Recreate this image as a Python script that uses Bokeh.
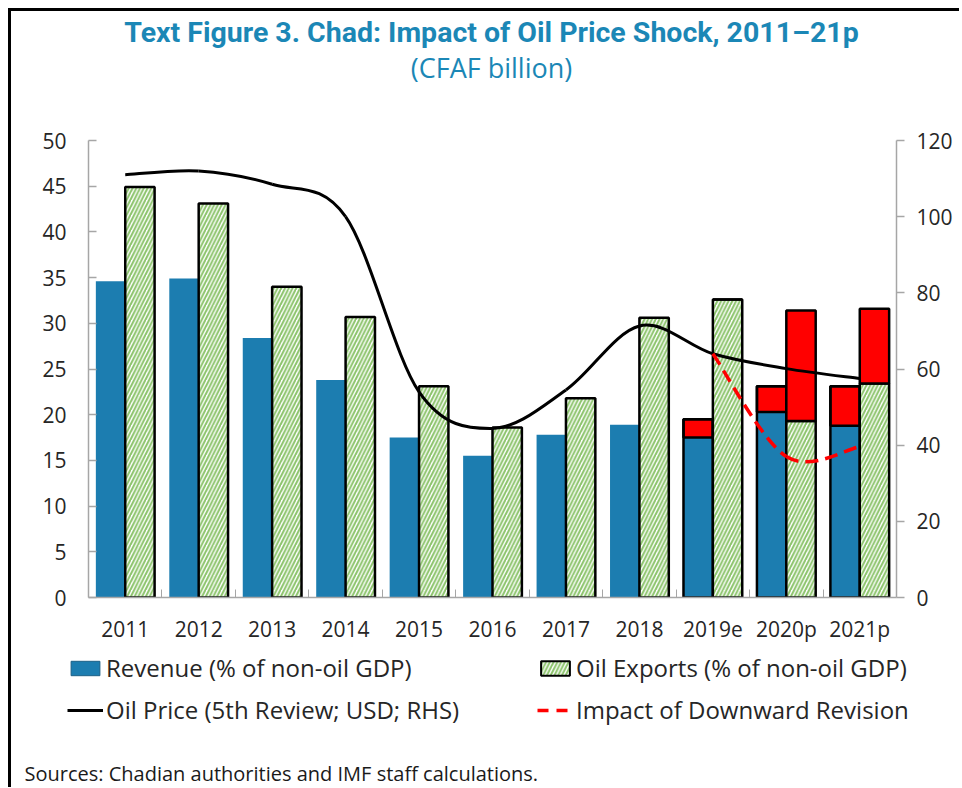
import math
from bokeh.plotting import figure
from bokeh.layouts import column
from bokeh.models import (Range1d, LinearAxis, FixedTicker, Legend, LegendItem,
                          ColumnDataSource, Label)
from bokeh.transform import dodge
from bokeh.embed import file_html
from bokeh.resources import INLINE

nan = float("nan")

# ---- data ----
categories = ["2011", "2012", "2013", "2014", "2015", "2016", "2017", "2018", "2019e", "2020p", "2021p"]
revenue = [34.6, 34.9, 28.4, 23.8, 17.5, 15.5, 17.8, 18.9, 17.5, 20.3, 18.8]
oil_exports = [44.9, 43.1, 34.0, 30.7, 23.1, 18.6, 21.8, 30.6, 32.6, 19.3, 23.4]
revenue_5th_review = [nan, nan, nan, nan, nan, nan, nan, nan, 19.5, 23.1, 23.1]
oil_exports_5th_review = [nan, nan, nan, nan, nan, nan, nan, nan, 32.6, 31.4, 31.6]
oil_price = [111.0, 112.0, 108.5, 100.0, 54.0, 44.4, 54.5, 71.3, 64.0, 60.1, 57.5]
oil_price_revised = [nan, nan, nan, nan, nan, nan, nan, nan, 64.0, 37.0, 39.6]
left_ticks = [0, 5, 10, 15, 20, 25, 30, 35, 40, 45, 50]
right_ticks = [0, 20, 40, 60, 80, 100, 120]

TITLE = "Text Figure 3. Chad: Impact of Oil Price Shock, 2011\u201321p"
SUBTITLE = "(CFAF billion)"
SOURCE = "Sources: Chadian authorities and IMF staff calculations."

TITLE_C = "#1B87B6"
BLUE = "#1C7DB0"
GREEN = "#8CC46C"
RED = "#FF0000"
FONT = "Open Sans"
TXT = "#262626"
W = 948


def blank_fig(h, yr):
    f = figure(width=W, height=h, output_backend="svg", toolbar_location=None,
               x_range=Range1d(0, W), y_range=yr, x_axis_type=None, y_axis_type=None)
    f.min_border = 0
    f.frame_align = False
    f.outline_line_color = None
    f.xgrid.visible = False
    f.ygrid.visible = False
    return f


# ---------- top: titles ----------
top = blank_fig(114, Range1d(114, 0))
top.add_layout(Label(x=480, y=21, text=TITLE, text_align="center", text_baseline="middle",
                     text_font="Roboto", text_font_style="bold", text_font_size="28.5px",
                     text_color=TITLE_C))
top.add_layout(Label(x=480, y=56, text=SUBTITLE, text_align="center", text_baseline="middle",
                     text_font=FONT, text_font_size="27px", text_color=TITLE_C))

# ---------- main chart ----------
idx = list(range(len(categories)))
src = ColumnDataSource(dict(x=idx, rev=revenue, exp=oil_exports,
                            rev5=revenue_5th_review, exp5=oil_exports_5th_review))

p = figure(width=W, height=522, output_backend="svg", toolbar_location=None,
           x_range=Range1d(-0.5, len(categories) - 0.5), y_range=Range1d(0, 50),
           min_border_left=77, min_border_right=63, min_border_top=15, min_border_bottom=50)
p.frame_align = False
p.outline_line_color = None
p.xgrid.visible = False
p.ygrid.visible = False
p.extra_y_ranges = {"price": Range1d(0, 120)}

BAR_LW = 2.5
HATCH = dict(hatch_pattern="/", hatch_color=GREEN, hatch_scale=7.5, hatch_weight=2)
p.vbar(x=dodge("x", -0.2), top="rev", bottom=0, width=0.4, source=src,
       fill_color=BLUE, line_color=None)
p.vbar(x=dodge("x", -0.2), top="rev5", bottom="rev", width=0.4, source=src,
       fill_color=RED, line_color="black", line_width=BAR_LW)
p.vbar(x=dodge("x", -0.2), top="rev5", bottom=0, width=0.4, source=src,
       fill_color=None, line_color="black", line_width=BAR_LW)
p.vbar(x=dodge("x", 0.2), top="exp", bottom=0, width=0.4, source=src,
       fill_color="white", line_color="black", line_width=BAR_LW, **HATCH)
p.vbar(x=dodge("x", 0.2), top="exp5", bottom="exp", width=0.4, source=src,
       fill_color=RED, line_color="black", line_width=BAR_LW)


def bezier_source(xs, ys):
    pts = [(x, y) for x, y in zip(xs, ys) if not math.isnan(y)]
    d = dict(x0=[], y0=[], x1=[], y1=[], cx0=[], cy0=[], cx1=[], cy1=[])
    n = len(pts)
    for i in range(n - 1):
        a = pts[i - 1] if i > 0 else pts[i]
        b = pts[i]
        c = pts[i + 1]
        e = pts[i + 2] if i + 2 < n else pts[i + 1]
        d["x0"].append(b[0]); d["y0"].append(b[1])
        d["x1"].append(c[0]); d["y1"].append(c[1])
        d["cx0"].append(b[0] + (c[0] - a[0]) / 6); d["cy0"].append(b[1] + (c[1] - a[1]) / 6)
        d["cx1"].append(c[0] - (e[0] - b[0]) / 6); d["cy1"].append(c[1] - (e[1] - b[1]) / 6)
    return ColumnDataSource(d)


p.bezier(x0="x0", y0="y0", x1="x1", y1="y1", cx0="cx0", cy0="cy0", cx1="cx1", cy1="cy1",
         source=bezier_source(idx, oil_price), y_range_name="price",
         line_color="black", line_width=3)
p.bezier(x0="x0", y0="y0", x1="x1", y1="y1", cx0="cx0", cy0="cy0", cx1="cx1", cy1="cy1",
         source=bezier_source(idx, oil_price_revised), y_range_name="price",
         line_color=RED, line_width=3.5, line_dash="13 7")

AX = "#A6A6A6"
TICK_FS = "21px"
p.xaxis.ticker = FixedTicker(ticks=idx, minor_ticks=[i + 0.5 for i in idx[:-1]])
p.xaxis.major_label_overrides = {i: c for i, c in zip(idx, categories)}
p.xaxis.major_tick_in = 0
p.xaxis.major_tick_out = 0
p.xaxis.minor_tick_in = 8
p.xaxis.minor_tick_out = 0
p.xaxis.minor_tick_line_color = AX
p.xaxis.major_label_standoff = 17

p.yaxis.ticker = FixedTicker(ticks=left_ticks)
p.yaxis.major_tick_in = 8
p.yaxis.major_tick_out = 0
p.yaxis.minor_tick_line_color = None
p.yaxis.major_label_standoff = 22

right = LinearAxis(y_range_name="price", ticker=FixedTicker(ticks=right_ticks))
right.major_tick_in = 0
right.major_tick_out = 8
right.minor_tick_line_color = None
right.major_label_standoff = 12
p.add_layout(right, "right")

for ax in [p.xaxis[0], p.yaxis[0], right]:
    ax.axis_line_color = AX
    ax.axis_line_width = 1.5
    ax.major_tick_line_color = AX
    ax.major_tick_line_width = 1.5
    ax.major_label_text_font = FONT
    ax.major_label_text_font_size = TICK_FS
    ax.major_label_text_color = TXT

# ---------- bottom: legend + source ----------
BH = 140
bot = blank_fig(BH, Range1d(BH, 0))
# legend keys (styled like the chart marks, holding no visible data)
rev_k = bot.vbar(x=[nan], top=[nan], width=1, fill_color=BLUE, line_color="#1A5F86", line_width=1)
exp_k = bot.vbar(x=[nan], top=[nan], width=1, fill_color="white", line_color="black",
                 line_width=2, **HATCH)
price_k = bot.line(x=[nan, nan], y=[nan, nan], line_color="black", line_width=3)
imp_k = bot.line(x=[nan, nan], y=[nan, nan], line_color=RED, line_width=3.5, line_dash="11 8")


def make_legend(items, loc):
    lg = Legend(items=items, location=loc, orientation="vertical")
    lg.border_line_color = None
    lg.background_fill_alpha = 0
    lg.padding = 0
    lg.margin = 0
    lg.spacing = 9
    lg.glyph_width = 36
    lg.glyph_height = 18
    lg.label_standoff = 3
    lg.label_text_font = FONT
    lg.label_text_font_size = "24px"
    lg.label_text_color = TXT
    return lg


bot.add_layout(make_legend([LegendItem(label="Revenue (% of non-oil GDP)", renderers=[rev_k]),
                            LegendItem(label="Oil Price (5th Review; USD; RHS)", renderers=[price_k])],
                           (56, 61)))
bot.add_layout(make_legend([LegendItem(label="Oil Exports (% of non-oil GDP)", renderers=[exp_k]),
                            LegendItem(label="Impact of Downward Revision", renderers=[imp_k])],
                           (526, 61)))
bot.add_layout(Label(x=13, y=126, text=SOURCE, text_align="left", text_baseline="middle",
                     text_font=FONT, text_font_size="20px", text_color="#1a1a1a"))

layout = column(top, p, bot, spacing=0)
layout.styles = {"border-left": "3px solid black", "border-top": "3px solid black",
                 "margin-left": "8px", "margin-top": "8px"}

open("out.html", "w").write(file_html(layout, INLINE))
